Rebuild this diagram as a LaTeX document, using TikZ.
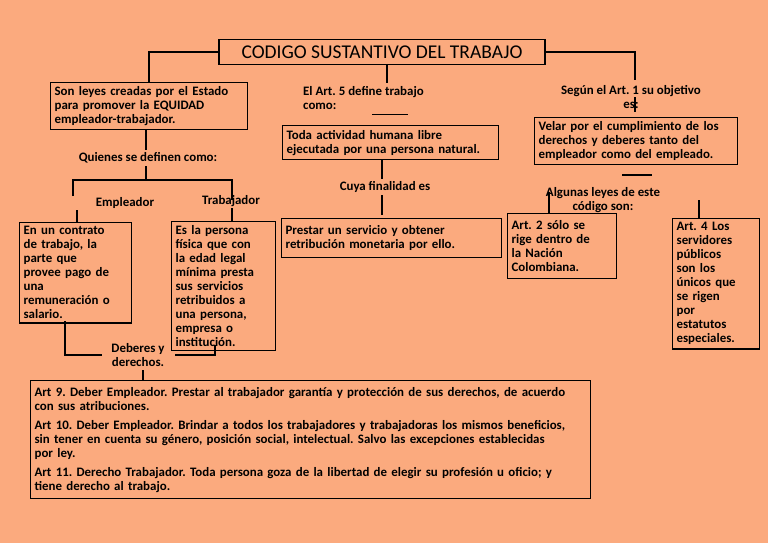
\documentclass[tikz,border=0pt]{standalone}
\usepackage{fontspec}
\setmainfont{Carlito}
\definecolor{bg}{RGB}{251,170,126}
\begin{document}
\frenchspacing
\begin{tikzpicture}[x=1pt,y=-1pt,
  bx/.style={draw,line width=1.2pt,anchor=north west,align=left,font=\bfseries\fontsize{12.9}{14}\selectfont,inner sep=4pt},
  lb/.style={font=\bfseries\fontsize{12.9}{14}\selectfont,align=center,inner sep=1pt},
  ln/.style={line width=1.8pt}]
\fill[bg] (0,0) rectangle (768,543);
\useasboundingbox (0,0) rectangle (768,543);
\node[draw,line width=1.2pt,minimum width=326pt,minimum height=25pt,font=\fontsize{19.5}{21}\selectfont] (t) at (382,52) {CODIGO SUSTANTIVO DEL TRABAJO};
% left branch
\node[bx,minimum width=197pt,minimum height=47pt,text width=189pt] (a) at (50,82) {Son leyes creadas por el Estado\\para promover la EQUIDAD\\empleador-trabajador.};
\draw[ln] (t.west) -- (149,52) -- (149,82);
\node[lb] (q) at (148,158) {Quienes se definen como:};
\draw[ln] (146,129) -- (146,150);
\coordinate (qb) at (146,166);
\draw[ln] (qb) -- (146,180) coordinate (j);
\draw[ln] (73,196) -- (73,180) -- (232,180) -- (232,200);
\node[lb] (emp) at (125,203) {Empleador};
\node[lb] (tra) at (231,201) {Trabajador};
\node[bx,minimum width=110pt,minimum height=99pt,text width=104pt] (e) at (19,222) {En un contrato\\de trabajo, la\\parte que\\provee pago de\\una\\remuneración o\\salario.};
\node[bx,minimum width=102pt,minimum height=124pt,text width=96pt] (w) at (171,221) {Es la persona\\física que con\\la edad legal\\mínima presta\\sus servicios\\retribuidos a\\una persona,\\empresa o\\institución.};
\draw[ln] (77,210) -- (77,222);
\draw[ln] (232,208) -- (232,221);
\node[lb] (d) at (138,355) {Deberes y\\derechos.};
\draw[ln] (65,321) -- (65,355) -- (102,355);
\draw[ln] (175,355) -- (215,355) -- (215,345);
\draw[ln] (143,370) -- (143,381);
\node[bx,minimum width=560pt,minimum height=118pt,text width=552pt,font=\bfseries\fontsize{12.9}{14}\selectfont] (big) at (30,380) {Art 9. Deber Empleador. Prestar al trabajador garantía y protección de sus derechos, de acuerdo\\con sus atribuciones.\\[5pt]Art 10. Deber Empleador. Brindar a todos los trabajadores y trabajadoras los mismos beneficios,\\sin tener en cuenta su género, posición social, intelectual. Salvo las excepciones establecidas\\por ley.\\[5pt]Art 11. Derecho Trabajador. Toda persona goza de la libertad de elegir su profesión u oficio; y\\tiene derecho al trabajo.};
% middle
\node[lb,align=left,anchor=north west] (m) at (302,85) {El Art. 5 define trabajo\\como:};
\draw[ln] (387,64) -- (387,83);
\draw[line width=1pt] (372,114) -- (408,114);
\node[bx,minimum width=216pt,minimum height=34pt,text width=208pt] (v) at (282,125) {Toda actividad humana libre\\ejecutada por una persona natural.};
\node[lb] (c) at (385,187) {Cuya finalidad es};
\draw[ln] (382,159) -- (382,179);
\draw[ln] (382,195) -- (382,215);
\node[bx,minimum width=220pt,minimum height=39pt,text width=212pt] (p) at (281,218) {Prestar un servicio y obtener\\retribución monetaria por ello.};
% right
\draw[ln] (t.east) -- (635,52) -- (635,80);
\draw[ln] (635,97) -- (635,112);
\node[lb] (s) at (631,97) {Según el Art. 1 su objetivo\\es:};
\node[bx,minimum width=203pt,minimum height=46pt,text width=195pt] (o) at (534,117) {Velar por el cumplimiento de los\\derechos y deberes tanto del\\empleador como del empleado.};
\draw[line width=1.2pt] (622,175) -- (652,175);
\node[lb] (al) at (603,200) {Algunas leyes de este\\código son:};
\draw[ln] (549,192) -- (549,214);
\node[bx,minimum width=107pt,minimum height=65pt,text width=101pt] (r2) at (507,213) {Art. 2 sólo se\\rige dentro de\\la Nación\\Colombiana.};
\draw[ln] (699,200) -- (699,218);
\node[bx,minimum width=85pt,minimum height=124pt,text width=79pt] (r4) at (672,218) {Art. 4 Los\\servidores\\públicos\\son los\\únicos que\\se rigen\\por\\estatutos\\especiales.};
\end{tikzpicture}
\end{document}
